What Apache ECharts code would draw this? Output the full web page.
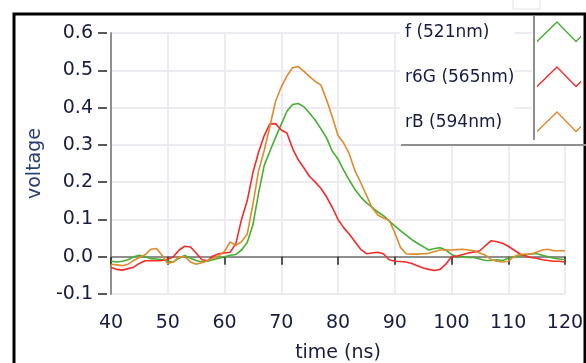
<!DOCTYPE html>
<html>
<head>
<meta charset="utf-8">
<script src="https://cdn.jsdelivr.net/npm/echarts@6/dist/echarts.min.js"></script>
<style>html,body{margin:0;padding:0;background:#fff;}#c{width:586px;height:363px;}</style>
</head>
<body>
<div id="c"></div>
<script>
// time axis (ns), 1 ns steps from 40 to 120
var time = [];
for (var t = 40; t <= 120; t++) time.push(t);

var seriesNames = ['f (521nm)', 'r6G (565nm)', 'rB (594nm)'];

var fValues = [
 -0.012,-0.014,-0.012,-0.008,0.000,0.004,0.000,-0.005,-0.006,-0.008,
 -0.012,-0.014,-0.004,0.003,-0.004,-0.010,-0.014,-0.012,-0.008,-0.004,
 0.000,0.004,0.006,0.018,0.038,0.085,0.170,0.245,0.283,0.320,
 0.355,0.390,0.408,0.411,0.402,0.385,0.366,0.343,0.318,0.283,
 0.262,0.232,0.205,0.180,0.160,0.145,0.132,0.120,0.110,0.096,
 0.083,0.070,0.058,0.046,0.036,0.027,0.018,0.022,0.024,0.018,
 0.006,0.000,0.000,-0.002,-0.002,-0.006,-0.010,-0.010,-0.008,-0.010,
 -0.004,0.000,0.002,0.004,0.008,0.008,0.004,0.000,-0.004,-0.006,
 -0.008
];

var r6GValues = [
 -0.028,-0.034,-0.036,-0.032,-0.028,-0.018,-0.011,-0.011,-0.011,-0.010,
 -0.007,0.000,0.018,0.028,0.026,0.010,-0.008,-0.011,0.002,0.008,
 0.010,0.012,0.035,0.100,0.150,0.225,0.280,0.325,0.356,0.357,
 0.340,0.332,0.290,0.260,0.238,0.215,0.200,0.183,0.160,0.132,
 0.100,0.078,0.060,0.040,0.020,0.008,0.010,0.012,0.008,-0.008,
 -0.012,-0.013,-0.014,-0.018,-0.024,-0.030,-0.034,-0.037,-0.034,-0.020,
 0.000,0.002,0.006,0.010,0.013,0.016,0.030,0.043,0.040,0.036,
 0.028,0.018,0.008,0.002,-0.002,-0.004,-0.008,-0.010,-0.012,-0.012,
 -0.014
];

var rBValues = [
 -0.020,-0.022,-0.024,-0.020,-0.010,-0.002,0.005,0.020,0.022,0.004,
 -0.018,-0.014,0.000,0.000,-0.014,-0.020,-0.016,-0.010,-0.004,0.002,
 0.014,0.040,0.030,0.040,0.060,0.140,0.230,0.285,0.350,0.417,
 0.455,0.485,0.507,0.510,0.497,0.483,0.470,0.460,0.420,0.375,
 0.325,0.305,0.275,0.230,0.199,0.165,0.132,0.112,0.104,0.098,
 0.065,0.025,0.008,0.007,0.007,0.008,0.009,0.014,0.018,0.018,
 0.018,0.019,0.020,0.018,0.016,0.010,0.004,-0.008,-0.012,-0.014,
 -0.012,0.000,0.006,0.007,0.007,0.012,0.018,0.020,0.016,0.016,
 0.016
];

var seriesColors = ['#45b030', '#f72a2a', '#df8a2c'];

function pairs(vals) { return time.map(function (t, i) { return [t, vals[i]]; }); }

var chart = echarts.init(document.getElementById('c'));
var txt = '#171c40';
var font = 'DejaVu Sans';
var zig = 'path://M0,19.5 L20,0 L39,19.5 L44,14.6 L44,16.6 L39,21.5 L20,2 L0,21.5 Z';

chart.setOption({
  animation: false,
  backgroundColor: '#fff',
  grid: { left: 111, right: 21, top: 33, bottom: 69, containLabel: false, outerBoundsMode: 'none' },
  xAxis: [{
    type: 'value', min: 40, max: 120, interval: 10, position: 'bottom', offset: 5,
    axisLine: { show: false },
    axisTick: { show: true, length: 8, lineStyle: { color: '#222', width: 1.5 } },
    axisLabel: { color: txt, fontSize: 19, fontFamily: font, margin: 15 },
    splitLine: { show: true, lineStyle: { color: '#eeebf0', width: 2 } },
    name: 'time (ns)', nameLocation: 'middle', nameGap: 45,
    nameTextStyle: { color: txt, fontSize: 19, fontFamily: font }
  }, {
    type: 'value', min: 40, max: 120, interval: 10, position: 'top',
    axisLine: { show: true, lineStyle: { color: '#8f8f8f', width: 2 } },
    axisTick: { show: false }, axisLabel: { show: false }, splitLine: { show: false }
  }],
  yAxis: [{
    type: 'value', min: -0.1, max: 0.6, interval: 0.1, position: 'left', offset: 4,
    axisLine: { show: false },
    axisTick: { show: true, length: 9, lineStyle: { color: '#222', width: 1.5 } },
    axisLabel: { color: txt, fontSize: 19, fontFamily: font, margin: 14,
      formatter: function (v) { return v.toFixed(1); } },
    splitLine: { show: true, lineStyle: { color: '#eeebf0', width: 2 } }
  }, {
    type: 'value', min: -0.1, max: 0.6, interval: 0.1, position: 'left', offset: 0,
    axisLine: { show: true, lineStyle: { color: '#8f8f8f', width: 2 } },
    axisTick: { show: false }, axisLabel: { show: false }, splitLine: { show: false },
    name: 'voltage', nameLocation: 'middle', nameGap: 66, nameRotate: 90,
    nameTextStyle: { color: '#2b3f6e', fontSize: 19, fontFamily: font }
  }],
  legend: [{
    // text column
    orient: 'vertical', left: 400, top: 15, align: 'left',
    backgroundColor: '#fff', padding: [7, 0, 11, 0],
    itemWidth: 0, itemHeight: 21.5, itemGap: 23.5,
    icon: 'rect', itemStyle: { opacity: 0, borderWidth: 0 },
    textStyle: { color: txt, fontSize: 17, fontFamily: font, width: 127 },
    data: seriesNames
  }, {
    // zigzag icon column
    orient: 'vertical', left: 532, top: 15, align: 'left',
    backgroundColor: '#fff', padding: [6, 0, 12, 5],
    itemWidth: 44, itemHeight: 21.5, itemGap: 23.5,
    icon: zig, itemStyle: { borderWidth: 0 },
    formatter: function () { return ''; },
    textStyle: { fontSize: 1 },
    data: seriesNames
  }],
  series: [0, 1, 2].map(function (k) {
    return {
      name: seriesNames[k], type: 'line', showSymbol: false,
      data: pairs([fValues, r6GValues, rBValues][k]),
      lineStyle: { color: seriesColors[k], width: 1.6 },
      itemStyle: { color: seriesColors[k] }
    };
  }),
  graphic: [
    { type: 'rect', shape: { x: 14, y: 14, width: 571, height: 400 }, style: { fill: null, stroke: '#000', lineWidth: 3 }, z: 100 },
    { type: 'line', shape: { x1: 534, y1: 16, x2: 534, y2: 140 }, style: { stroke: '#8f8f8f', lineWidth: 2 }, z: 100 },
    { type: 'line', shape: { x1: 401, y1: 145, x2: 586, y2: 145 }, style: { stroke: '#8f8f8f', lineWidth: 2 }, z: 100 },
    { type: 'rect', shape: { x: 513, y: -3, width: 27, height: 12 }, style: { fill: null, stroke: '#e2e2e2', lineWidth: 1 }, z: 100 }
  ]
});
</script>
</body>
</html>
